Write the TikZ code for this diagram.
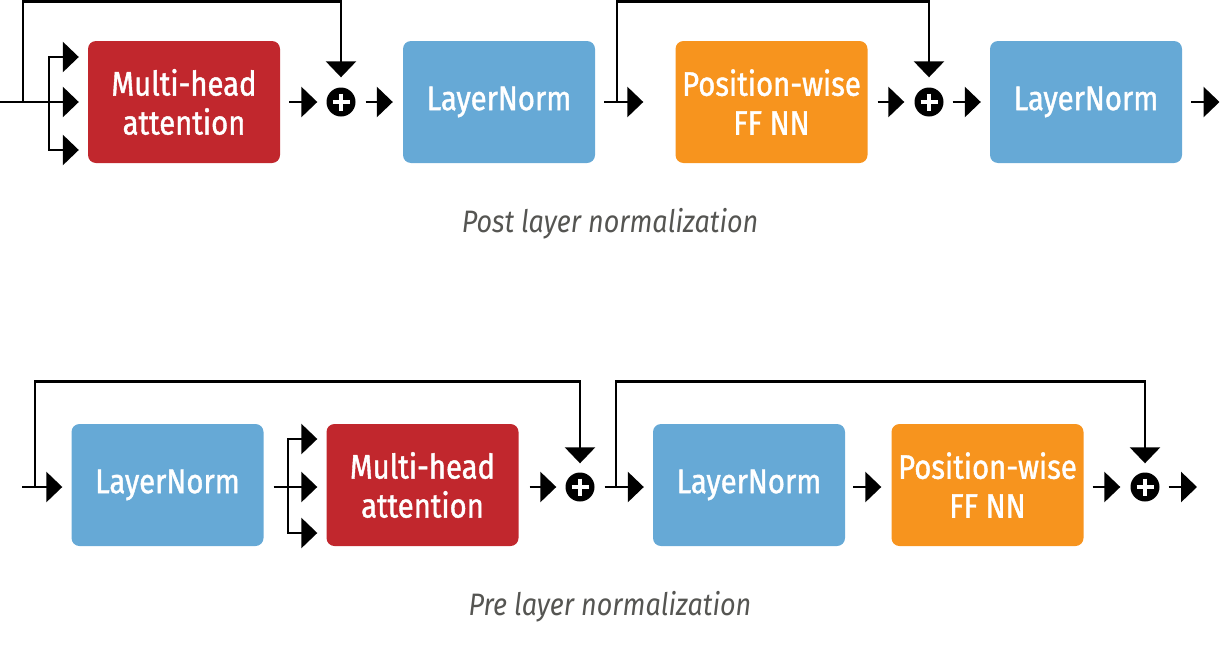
\documentclass[tikz,border=0pt]{standalone}
\usepackage{fontspec}
\setmainfont{Fira Sans}[FakeStretch=0.86, FakeBold=1.2]
\newfontfamily\capfont{Fira Sans}[FakeStretch=0.87]
\usetikzlibrary{arrows.meta,calc}
\definecolor{mhared}{RGB}{193,39,45}
\definecolor{lnblue}{RGB}{102,169,214}
\definecolor{fforange}{RGB}{247,148,30}
\definecolor{capgray}{RGB}{85,85,82}
\begin{document}
\begin{tikzpicture}[x=1pt,y=-1pt,
  box/.style={rectangle, rounded corners=8pt, minimum width=192pt, minimum height=122pt,
    inner sep=0pt, text=white, align=center, font=\fontsize{34}{39}\selectfont},
  mhabox/.style={box, fill=mhared},
  lnbox/.style={box, fill=lnblue},
  ffbox/.style={box, fill=fforange},
  plusnode/.style={circle, fill=black, minimum size=29pt, inner sep=0pt,
    path picture={\draw[white, line width=3.4pt]
      ($(path picture bounding box.center)+(-8.5,0)$) -- ($(path picture bounding box.center)+(8.5,0)$)
      ($(path picture bounding box.center)+(0,-8.5)$) -- ($(path picture bounding box.center)+(0,8.5)$);}},
  arr/.style={line width=2.8pt, -{Triangle[length=16pt,width=30pt]}},
  caption/.style={text=capgray, font=\capfont\itshape\fontsize{31}{36}\selectfont}
]
\useasboundingbox (0,0) rectangle (1220,664);

% ---------- Post layer normalization ----------
\node[mhabox] (mha1) at (184,102) {Multi-head\\attention};
\node[lnbox] (ln1) at (499,102) {LayerNorm};
\node[ffbox] (ff1) at (771.5,102) {Position-wise\\FF NN};
\node[lnbox] (ln2) at (1086,102) {LayerNorm};
\node[plusnode] (p1) at (341,102) {};
\node[plusnode] (p2) at (929,102) {};

\coordinate (in1) at (0,102);
\coordinate (s1) at (23,102);
\coordinate (b1) at (49,102);
\coordinate (top1) at (0,1.5);
\coordinate (s2) at (617,102);
\coordinate (out1) at (1219.5,102);
\coordinate (t1a) at ($(mha1.west)+(-9,-45)$);
\coordinate (t1c) at ($(mha1.west)+(-9,48)$);

\draw[arr, shorten >=9pt] (in1) -- (mha1.west);
\draw[arr] (b1) |- (t1a);
\draw[arr] (b1) |- (t1c);
\draw[arr, shorten >=10pt] (s1) |- (top1 -| p1) -- (p1.north);
\draw[arr, shorten <=9pt, shorten >=9pt] (mha1) -- (p1);
\draw[arr, shorten <=10pt, shorten >=10pt] (p1) -- (ln1);
\draw[arr, shorten <=9pt, shorten >=32pt] (ln1) -- (ff1);
\draw[arr, shorten >=10pt] (s2) |- (top1 -| p2) -- (p2.north);
\draw[arr, shorten <=10pt, shorten >=10pt] (ff1) -- (p2);
\draw[arr, shorten <=9pt, shorten >=9pt] (p2) -- (ln2);
\draw[arr, shorten <=9pt] (ln2) -- (out1);

\node[caption] (cap1) at (610,224) {Post layer normalization};

% ---------- Pre layer normalization ----------
\node[lnbox] (lnb1) at (167.5,485) {LayerNorm};
\node[mhabox] (mhab) at (422.5,485) {Multi-head\\attention};
\node[lnbox] (lnb2) at (749,485) {LayerNorm};
\node[ffbox] (ffb) at (987.5,485) {Position-wise\\FF NN};
\node[plusnode] (pb1) at (580,487) {};
\node[plusnode] (pb2) at (1145,487) {};

\coordinate (in2) at (22,487);
\coordinate (s3) at (35,487);
\coordinate (top2) at (0,381.5);
\coordinate (b2) at (288,487);
\coordinate (s4) at (616,487);
\coordinate (out2) at (1197,487);
\coordinate (t2a) at ($(mhab.west)+(-9,-46)$);
\coordinate (t2c) at ($(mhab.west)+(-9,48)$);

\draw[arr, shorten >=9pt] (in2) -- (in2 -| lnb1.west);
\draw[arr, shorten >=9pt] (s3) |- (top2 -| pb1) -- (pb1.north);
\draw[arr, shorten <=10pt, shorten >=9pt] (lnb1.east |- b2) -- (b2 -| mhab.west);
\draw[arr] (b2) |- (t2a);
\draw[arr] (b2) |- (t2c);
\draw[arr, shorten <=11pt, shorten >=9pt] (mhab.east |- pb1) -- (pb1);
\draw[arr, shorten <=10pt, shorten >=9pt] (pb1) -- (pb1 -| lnb2.west);
\draw[arr, shorten >=9pt] (s4) |- (top2 -| pb2) -- (pb2.north);
\draw[arr, shorten <=8pt, shorten >=10pt] (lnb2.east |- pb1) -- (pb1 -| ffb.west);
\draw[arr, shorten <=9pt, shorten >=10pt] (ffb.east |- pb2) -- (pb2);
\draw[arr, shorten <=9pt] (pb2) -- (out2);

\node[caption] (cap2) at (610,607) {Pre layer normalization};
\end{tikzpicture}
\end{document}
